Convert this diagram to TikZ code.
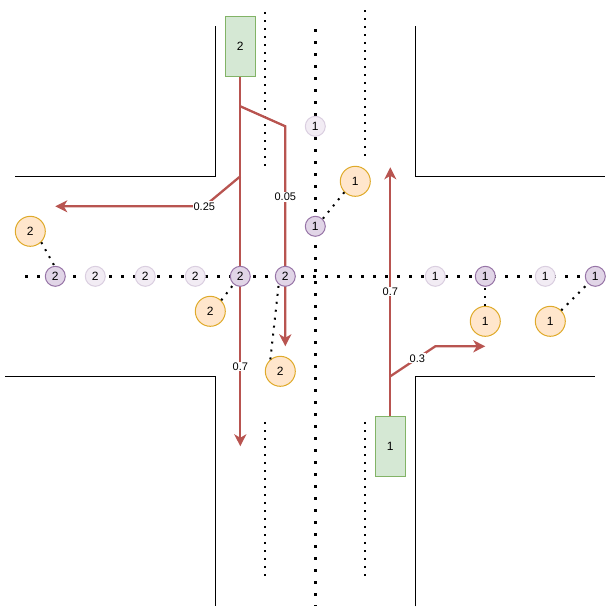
\documentclass[tikz,border=0pt]{standalone}
\usepackage{fontspec}
\setmainfont{Liberation Sans}
\usetikzlibrary{arrows.meta}
\definecolor{redline}{HTML}{B85450}
\definecolor{purf}{HTML}{E1D5E7}\definecolor{purd}{HTML}{9673A6}
\definecolor{orf}{HTML}{FFE6CC}\definecolor{ord}{HTML}{D79B00}
\definecolor{grf}{HTML}{D5E8D4}\definecolor{grd}{HTML}{82B366}
\tikzset{
 curb/.style={draw=black,line width=1pt},
 bigdots/.style={draw=black,line width=3pt,dash pattern=on 3pt off 9pt},
 smalldots/.style={draw=black,line width=2pt,dash pattern=on 2pt off 6pt},
 linkdots/.style={draw=black,line width=2pt,dash pattern=on 2pt off 6pt},
 route/.style={draw=redline,line width=2.3pt},
 routearrow/.style={route,-{Stealth[length=12pt,width=12pt,inset=3.5pt]}},
 conflict/.style={circle,draw=purd,fill=purf,line width=1pt,minimum size=20pt,inner sep=0pt,font=\fontsize{12pt}{14pt}\selectfont},
 ghost/.style={conflict,draw=purd!35,fill=purf!45},
 walker/.style={circle,draw=ord!80!orf,fill=orf,line width=1pt,minimum size=30pt,inner sep=0pt,font=\fontsize{12pt}{14pt}\selectfont},
 car/.style={rectangle,draw=grd,fill=grf,line width=1pt,minimum width=30pt,minimum height=60pt,inner sep=0pt,font=\fontsize{12pt}{14pt}\selectfont},
 prob/.style={fill=white,inner sep=1pt,font=\fontsize{11pt}{13pt}\selectfont},
}
\begin{document}
\begin{tikzpicture}[x=1pt,y=-1pt]
\useasboundingbox (0,0) rectangle (612,614);
\begin{scope}[shift={(0.3,0.3)}]
% curbs
\coordinate (tla) at (15,176);\coordinate (tlb) at (215,176);\coordinate (tlc) at (215,26);
\coordinate (tra) at (415,26);\coordinate (trb) at (415,176);\coordinate (trc) at (605,176);
\coordinate (bla) at (5,376);\coordinate (blb) at (215,376);\coordinate (blc) at (215,606);
\coordinate (bra) at (415,606);\coordinate (brb) at (415,376);\coordinate (brc) at (595,376);
\draw[curb] (tla) -- (tlb) -- (tlc);
\draw[curb] (tra) -- (trb) -- (trc);
\draw[curb] (bla) -- (blb) -- (blc);
\draw[curb] (bra) -- (brb) -- (brc);
% lane markings
\coordinate (cvt) at (315,29);\coordinate (cvb) at (315,606);
\coordinate (chl) at (25,276);\coordinate (chr) at (595,276);
\coordinate (l1t) at (265,12);\coordinate (l1b) at (265,166);
\coordinate (l2t) at (365,10);\coordinate (l2b) at (365,156);
\coordinate (l3t) at (265,422);\coordinate (l3b) at (265,576);
\coordinate (l4t) at (365,422);\coordinate (l4b) at (365,576);
\draw[bigdots] (cvt) -- (cvb);
\draw[bigdots] (chl) -- (chr);
\draw[smalldots] (l1t) -- (l1b);
\draw[smalldots] (l2t) -- (l2b);
\draw[smalldots] (l3t) -- (l3b);
\draw[smalldots] (l4t) -- (l4b);
% vehicles
\node[car] (cara) at (240,46) {2};
\node[car] (carb) at (390,446) {1};
% route coordinates
\coordinate (a1) at (240,106);\coordinate (a2) at (285,126);
\coordinate (a3) at (240,176);\coordinate (a4) at (204,206);
\coordinate (aend) at (240,446);\coordinate (bend) at (285,346);\coordinate (cend) at (55,206);
\coordinate (b1) at (390,376);\coordinate (b2) at (435,346);
\coordinate (dend) at (390,167);\coordinate (eend) at (485,346);
\draw[routearrow] (cara.south) -- (aend) node[prob,pos=0.784] {0.7};
\draw[routearrow] (a1) -- (a2) -- (bend) node[prob,pos=0.32] {0.05};
\draw[routearrow] (a3) -- (a4) -- (cend);
\node[prob] at (a4) {0.25};
\draw[routearrow] (carb.north) -- (dend) node[prob,pos=0.5] {0.7};
\draw[routearrow] (b1) -- (b2) -- (eend);
\node[prob] at (417,358) {0.3};
% conflict points
\node[conflict] (p1) at (55,276) {2};
\node[ghost] (g1) at (95,276) {2};
\node[ghost] (g2) at (145,276) {2};
\node[ghost] (g3) at (195,276) {2};
\node[conflict] (p2) at (240,276) {2};
\node[conflict] (p3) at (285,276) {2};
\node[ghost] (g4) at (315,126) {1};
\node[conflict] (p4) at (315,226) {1};
\node[ghost] (g5) at (435,276) {1};
\node[conflict] (p5) at (485,276) {1};
\node[ghost] (g6) at (545,276) {1};
\node[conflict] (p6) at (595,276) {1};
% pedestrians
\node[walker] (w1) at (30,231) {2};
\node[walker] (w2) at (210,311) {2};
\node[walker] (w3) at (280,371) {2};
\node[walker] (w4) at (355,181) {1};
\node[walker] (w5) at (485,321) {1};
\node[walker] (w6) at (550,321) {1};
\draw[linkdots] (w1.-45) -- (p1.95);
\draw[linkdots] (w2.45) -- (p2.230);
\draw[linkdots] (w3.130) -- (p3.231);
\draw[linkdots] (w4.225) -- (p4.45);
\draw[linkdots] (w5.north) -- (p5.south);
\draw[linkdots] (w6.45) -- (p6.225);
\end{scope}
\end{tikzpicture}
\end{document}
